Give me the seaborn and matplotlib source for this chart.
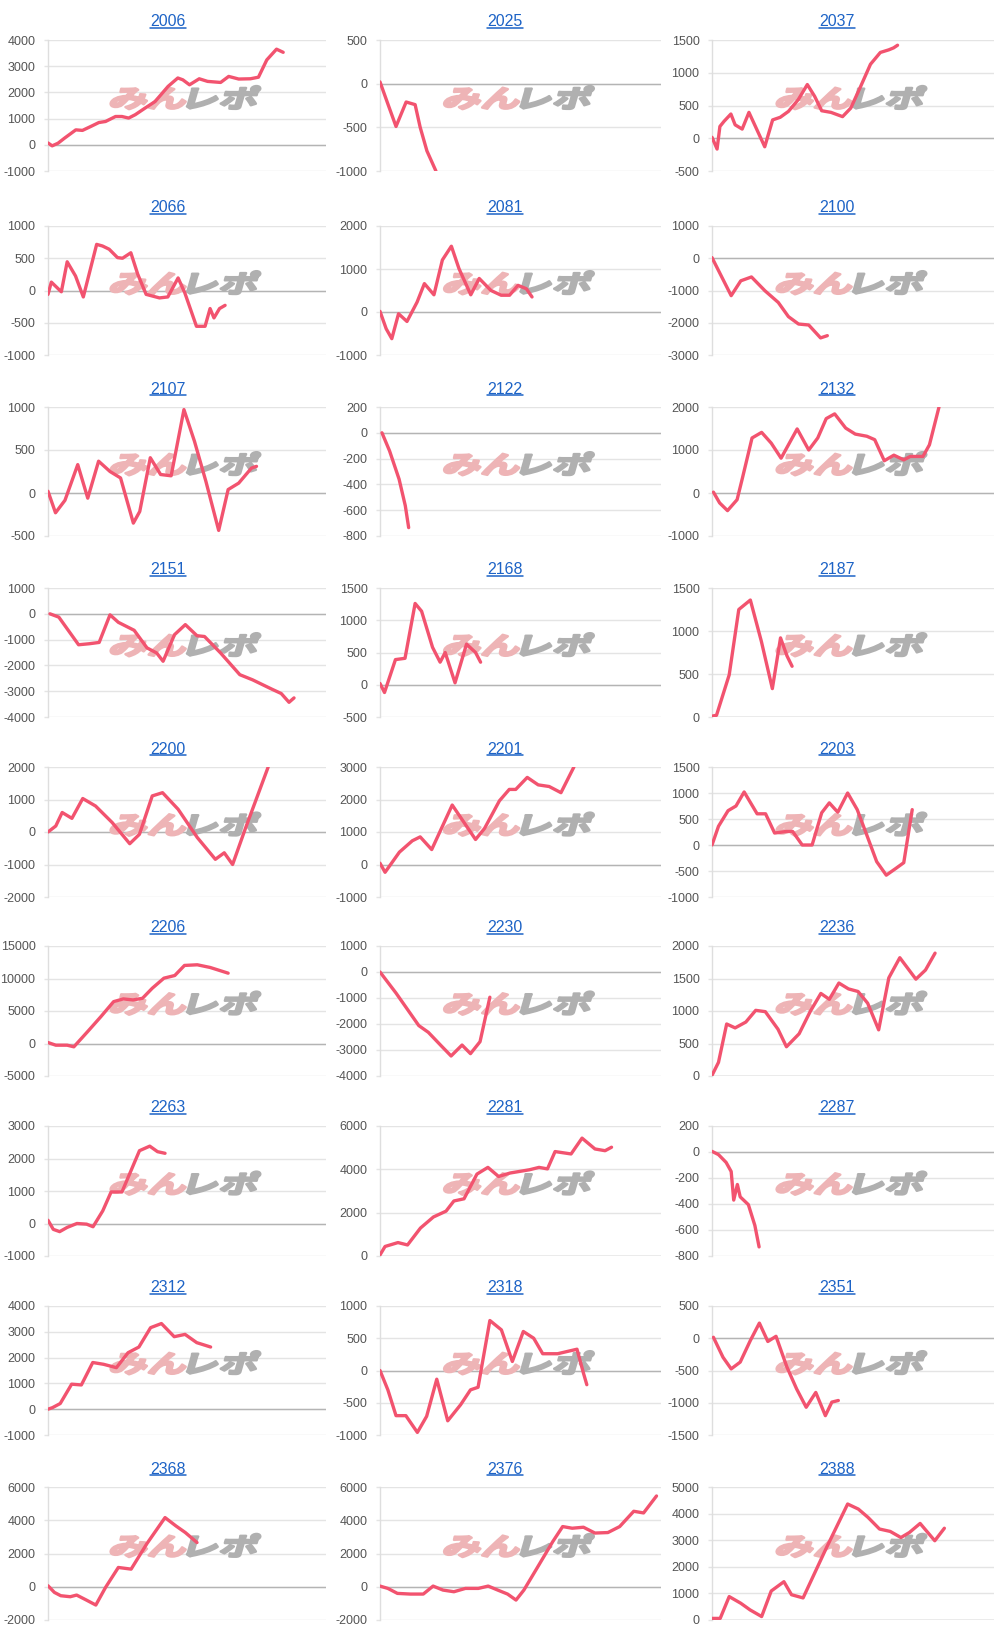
import numpy as np
import pandas as pd
import matplotlib
matplotlib.use("Agg")
import matplotlib.pyplot as plt
import seaborn as sns
from matplotlib.textpath import TextPath
from matplotlib.font_manager import FontProperties
from matplotlib.patches import PathPatch
from matplotlib.transforms import Affine2D, IdentityTransform
from matplotlib.lines import Line2D

# ---------------- data ----------------
titles = ["2006", "2025", "2037", "2066", "2081", "2100", "2107", "2122", "2132",
          "2151", "2168", "2187", "2200", "2201", "2203", "2206", "2230", "2236",
          "2263", "2281", "2287", "2312", "2318", "2351", "2368", "2376", "2388"]
y_min = [-1000, -1000, -500, -1000, -1000, -3000, -500, -800, -1000,
         -4000, -500, 0, -2000, -1000, -1000, -5000, -4000, 0,
         -1000, 0, -800, -1000, -1000, -1500, -2000, -2000, 0]
y_max = [4000, 500, 1500, 1000, 2000, 1000, 1000, 200, 2000,
         1000, 1500, 1500, 2000, 3000, 1500, 15000, 1000, 2000,
         3000, 6000, 200, 4000, 1000, 500, 6000, 6000, 5000]
y_step = [1000, 500, 500, 500, 1000, 1000, 500, 200, 1000,
          1000, 500, 500, 1000, 1000, 500, 5000, 1000, 500,
          1000, 2000, 200, 1000, 500, 500, 2000, 2000, 1000]

x_2006 = [0, 1.5, 3.6, 5.9, 10, 12.4, 15.4, 18.3, 20.7, 24.3, 26.6, 29, 31.4, 34.9, 38.5, 43.2, 46.7, 48.5, 50.9, 54.4, 57.4, 62.1, 65, 68.6, 72.8, 75.7, 78.7, 82.2, 84.6]
y_2006 = [70, -40, 60, 250, 570, 550, 700, 850, 890, 1080, 1080, 1020, 1150, 1400, 1650, 2230, 2550, 2480, 2290, 2520, 2420, 2380, 2610, 2510, 2520, 2580, 3240, 3650, 3530]
x_2025 = [0, 3, 5.7, 9.3, 12.5, 14.3, 16.7, 19.9]
y_2025 = [20, -250, -490, -210, -240, -500, -770, -1000]
x_2037 = [0, 1.8, 2.8, 4.3, 6.7, 8.2, 10.7, 13.1, 15.4, 18.7, 21.5, 24.2, 27.1, 30.6, 33.8, 36.4, 38.9, 42.2, 46.3, 49.2, 52.7, 56.2, 59.7, 62.7, 64.4, 65.8]
y_2037 = [15, -165, 180, 260, 370, 205, 140, 395, 180, -130, 280, 320, 410, 590, 820, 640, 420, 395, 330, 460, 790, 1130, 1310, 1350, 1380, 1420]
x_2066 = [0, 1.2, 4.8, 6.9, 9.9, 12.7, 17.5, 19.6, 22, 25, 26.8, 29.8, 32.3, 35.3, 40.1, 43.1, 46.8, 49.2, 53.4, 56.5, 58.3, 59.7, 61.7, 63.7]
y_2066 = [-60, 130, -20, 445, 225, -100, 715, 690, 640, 510, 500, 585, 250, -60, -115, -100, 195, -35, -555, -555, -280, -425, -280, -230]
x_2081 = [0, 2.2, 4.2, 6.6, 9.6, 13.2, 15.8, 19.2, 22.2, 25.4, 28.1, 32.3, 35.3, 39.5, 43.1, 46.1, 49.1, 52.1, 54.1]
y_2081 = [15, -390, -620, -40, -220, 230, 660, 400, 1210, 1530, 1010, 400, 780, 500, 390, 390, 620, 540, 350]
x_2100 = [0, 6.8, 10.2, 14, 18.8, 23.5, 27.1, 30.7, 34.3, 38.5, 40.9]
y_2100 = [20, -1160, -700, -580, -1010, -1370, -1810, -2040, -2070, -2470, -2400]
x_2107 = [0, 2.7, 6.1, 10.7, 14.3, 18.2, 22.3, 26.1, 30.7, 33, 36.8, 40.5, 44.3, 48.9, 52.7, 56.8, 61.4, 64.8, 68.6, 73.2, 75]
y_2107 = [20, -230, -85, 330, -60, 370, 250, 175, -350, -215, 410, 215, 200, 970, 600, 135, -435, 40, 115, 290, 310]
x_2122 = [0.7, 3.4, 6.8, 9, 10.2]
y_2122 = [0, -140, -360, -565, -735]
x_2132 = [0.5, 2.7, 5.5, 8.9, 10.8, 14.2, 17.6, 21, 24.5, 30.2, 34.3, 37.5, 40.5, 43.5, 47.4, 50.8, 54.9, 57.7, 61.1, 64.5, 68, 70.3, 74.8, 77.1, 80.5]
y_2132 = [20, -230, -410, -155, 350, 1280, 1410, 1160, 810, 1490, 1000, 1280, 1730, 1840, 1510, 1370, 1320, 1240, 750, 880, 770, 850, 850, 1120, 2000]
x_2151 = [0.7, 3.9, 11, 14.9, 18.4, 22.3, 25.3, 31, 35.6, 39.1, 41.4, 45.5, 49.4, 53.6, 56.3, 62.1, 69, 73.6, 80.5, 83.9, 86.7, 88.5]
y_2151 = [0, -130, -1200, -1160, -1110, -40, -330, -640, -1320, -1520, -1840, -810, -420, -850, -880, -1520, -2360, -2560, -2920, -3090, -3430, -3260]
x_2168 = [0, 1.6, 5.5, 8.9, 12.5, 14.8, 18.7, 21.4, 23.2, 26.7, 30.8, 34, 35.8]
y_2168 = [20, -120, 390, 410, 1260, 1140, 580, 350, 500, 30, 630, 500, 350]
x_2187 = [0, 1.6, 6.1, 9.5, 13.6, 17.5, 21.4, 24.3, 26.6, 28.4]
y_2187 = [10, 20, 490, 1250, 1360, 880, 330, 920, 710, 590]
x_2200 = [0, 2.8, 5.1, 8.6, 12.5, 17.1, 23.1, 29.4, 32.9, 37.5, 41.2, 46.8, 53.7, 60.2, 63.4, 66.4, 71.1, 79.2]
y_2200 = [0, 185, 600, 420, 1030, 800, 290, -360, -70, 1110, 1210, 700, -170, -840, -640, -1000, 130, 2000]
x_2201 = [0, 1.8, 6.9, 11.5, 14.3, 18.4, 25.7, 34, 37.2, 42.5, 46, 48.3, 52.4, 56.3, 60.2, 64.4, 69]
y_2201 = [40, -240, 380, 730, 850, 460, 1830, 770, 1110, 1960, 2310, 2310, 2680, 2450, 2400, 2210, 3000]
x_2203 = [0, 2.3, 5.7, 8.5, 11.4, 16, 19, 22.2, 26.3, 28.6, 32, 35.5, 38.9, 41.6, 44.6, 48.1, 51.5, 54.9, 58.4, 61.8, 65.2, 68, 71]
y_2203 = [0, 360, 660, 750, 1020, 600, 600, 230, 260, 260, 0, 0, 620, 810, 630, 1000, 680, 190, -320, -580, -450, -340, 680]
x_2206 = [0, 2.8, 6.9, 9.3, 14.4, 19, 23.6, 27.1, 30.6, 34, 37.5, 41.7, 45.6, 49.1, 53.7, 58.3, 64.8]
y_2206 = [150, -260, -260, -510, 1900, 4120, 6440, 6860, 6700, 6960, 8500, 10050, 10460, 12010, 12110, 11700, 10820]
x_2230 = [0, 5.7, 13.8, 17.2, 21.8, 25.3, 29.2, 32.2, 35.6, 39.1]
y_2230 = [0, -810, -2060, -2320, -2840, -3230, -2810, -3140, -2680, -970]
x_2236 = [0, 2.3, 5.2, 8.2, 12, 15.5, 18.9, 23.4, 26.4, 30.9, 34.8, 38.6, 41.6, 45, 48.4, 51.8, 55.2, 59.1, 62.7, 66.6, 72.3, 75.7, 79.1]
y_2236 = [10, 210, 800, 740, 830, 1010, 990, 720, 450, 650, 990, 1270, 1180, 1430, 1340, 1300, 1120, 710, 1510, 1820, 1490, 1630, 1890]
x_2263 = [0, 1.9, 4.2, 6.9, 10.4, 13.9, 16.2, 19.7, 22.7, 26.6, 32.9, 36.6, 39.4, 42.1]
y_2263 = [100, -180, -250, -120, 0, -20, -100, 390, 970, 970, 2240, 2380, 2210, 2160]
x_2281 = [0, 1.8, 6.4, 9.8, 14.4, 19, 23.5, 26.3, 29.9, 34.5, 38.4, 42.2, 46.3, 53.2, 56.6, 59.6, 62.3, 68, 71.9, 76.5, 80.1, 82.4]
y_2281 = [50, 440, 620, 510, 1290, 1800, 2070, 2540, 2640, 3780, 4090, 3670, 3830, 3980, 4090, 4020, 4820, 4710, 5440, 4940, 4860, 5020]
x_2287 = [0, 2.3, 5, 6.8, 7.7, 9, 10, 12.9, 15.2, 16.7]
y_2287 = [5, -20, -80, -150, -370, -250, -345, -405, -565, -730]
x_2312 = [0, 1.6, 4.4, 8.5, 12, 16.1, 20, 24.6, 28.8, 32.7, 36.9, 40.8, 45.4, 49.3, 53.5, 58.5]
y_2312 = [0, 60, 220, 970, 940, 1810, 1740, 1610, 2190, 2410, 3160, 3320, 2810, 2900, 2580, 2410]
x_2318 = [0, 2.8, 5.7, 9.2, 13.3, 16.6, 20.2, 24.1, 28.7, 32.2, 34.9, 39.1, 43.2, 47.1, 51, 54.7, 57.9, 63.2, 70.1, 72.4, 73.6]
y_2318 = [0, -300, -700, -700, -960, -710, -135, -780, -530, -300, -260, 775, 630, 140, 605, 500, 260, 260, 330, -40, -220]
x_2351 = [0.5, 3.9, 6.8, 10, 13.6, 16.8, 19.8, 22.7, 26.6, 30, 33.4, 36.8, 40.2, 42.5, 44.8]
y_2351 = [15, -295, -475, -370, -35, 235, -50, 30, -450, -785, -1070, -840, -1200, -990, -965]
x_2368 = [0, 2.3, 4.6, 8, 10.3, 13.8, 17.2, 20.7, 25.3, 29.9, 35.6, 42.1, 46, 49.4, 53.6]
y_2368 = [60, -340, -540, -600, -500, -800, -1100, -40, 1160, 1060, 2600, 4160, 3660, 3260, 2660]
x_2376 = [0, 2.8, 6.2, 10.8, 15.4, 18.9, 22.4, 26.3, 30.4, 35, 38.5, 41.9, 45.4, 48.4, 51.2, 55.8, 61.5, 65, 68.4, 72.4, 76.5, 81.1, 85.3, 90.3, 93.8, 98.4]
y_2376 = [40, -100, -400, -440, -440, 40, -200, -300, -100, -100, 40, -200, -440, -800, -200, 1100, 2720, 3620, 3520, 3580, 3230, 3260, 3620, 4540, 4440, 5460]
x_2388 = [0, 2.9, 6.1, 10.2, 13.5, 17.6, 21, 25.5, 28.2, 32.3, 40.6, 48.1, 51.9, 55.3, 59.4, 63.2, 67, 70, 73.8, 79, 82.4]
y_2388 = [60, 60, 880, 630, 380, 130, 1090, 1440, 950, 830, 2720, 4360, 4170, 3860, 3420, 3330, 3100, 3290, 3630, 2980, 3450]

series_x = [x_2006, x_2025, x_2037, x_2066, x_2081, x_2100, x_2107, x_2122, x_2132,
            x_2151, x_2168, x_2187, x_2200, x_2201, x_2203, x_2206, x_2230, x_2236,
            x_2263, x_2281, x_2287, x_2312, x_2318, x_2351, x_2368, x_2376, x_2388]
series_y = [y_2006, y_2025, y_2037, y_2066, y_2081, y_2100, y_2107, y_2122, y_2132,
            y_2151, y_2168, y_2187, y_2200, y_2201, y_2203, y_2206, y_2230, y_2236,
            y_2263, y_2281, y_2287, y_2312, y_2318, y_2351, y_2368, y_2376, y_2388]

# ---------------- style / layout ----------------
sns.set_theme(style="white")
plt.rcParams["font.family"] = ["Liberation Sans", "DejaVu Sans"]
plt.rcParams["axes.unicode_minus"] = False

FIG_W, FIG_H = 1000, 1637
LINE_COLOR = "#f2536f"
TITLE_COLOR = "#1d63c6"
GRID_COLOR = "#e4e4e4"
ZERO_COLOR = "#b4b4b4"
TICK_COLOR = "#555555"
WM_PINK = "#eeb4b6"
WM_GRAY = "#b0b0b0"

col_left = [48, 380, 712]
col_right = [326, 661, 994]
col_title_x = [168, 505, 837]
row_top = [40, 226, 407, 588, 767, 946, 1126, 1306, 1487]
row_h = [131, 129, 129, 129, 130, 130, 130, 129, 133]

fig = plt.figure(figsize=(FIG_W / 100, FIG_H / 100), dpi=100)
fig.patch.set_facecolor("white")

wm_fp = FontProperties(family="Noto Sans CJK JP", weight="bold")


def add_watermark(ax):
    bb = ax.get_position()
    cx = (bb.x0 + bb.x1) / 2 * FIG_W - 2
    cy = (bb.y0 + 0.56 * bb.height) * FIG_H
    size = 30
    pa = TextPath((0, 0), "みん", size=size, prop=wm_fp)
    pb = TextPath((0, 0), "レポ", size=size, prop=wm_fp)
    ea, eb = pa.get_extents(), pb.get_extents()
    shift_b = ea.x1 + 2 - eb.x0
    x0, x1 = ea.x0, shift_b + eb.x1
    y0, y1 = min(ea.y0, eb.y0), max(ea.y1, eb.y1)
    base = (Affine2D().translate(-(x0 + x1) / 2, -(y0 + y1) / 2)
            .scale(1.3, 0.82).skew_deg(16, 0).translate(cx, cy))
    pa_t = base.transform_path(pa)
    pb_t = (Affine2D().translate(shift_b, 0) + base).transform_path(pb)
    for p, col in ((pa_t, WM_PINK), (pb_t, WM_GRAY)):
        patch = PathPatch(p, facecolor=col, edgecolor=col, lw=1.8,
                          joinstyle="round",
                          transform=IdentityTransform(), zorder=1.5)
        ax.add_patch(patch)


title_texts = []
for i, name in enumerate(titles):
    r, c = divmod(i, 3)
    left = col_left[c] / FIG_W
    width = (col_right[c] - col_left[c]) / FIG_W
    bottom = 1 - (row_top[r] + row_h[r]) / FIG_H
    height = row_h[r] / FIG_H
    ax = fig.add_axes([left, bottom, width, height])

    df = pd.DataFrame({"x": series_x[i], "y": series_y[i]})
    ymin, ymax, step = y_min[i], y_max[i], y_step[i]

    ax.yaxis.grid(True, color=GRID_COLOR, lw=1.0, zorder=0)
    ax.xaxis.grid(False)
    ax.set_axisbelow(True)
    if ymin <= 0 <= ymax:
        ax.axhline(0, color=ZERO_COLOR, lw=1.0, zorder=1)

    add_watermark(ax)

    sns.lineplot(data=df, x="x", y="y", ax=ax, color=LINE_COLOR, linewidth=2.4,
                 sort=False, estimator=None, zorder=3)
    for ln in ax.lines:
        ln.set_solid_joinstyle("round")
        ln.set_solid_capstyle("round")

    ticks = np.arange(ymin, ymax + step / 2, step)
    ax.set_xlim(0, 100)
    ax.set_ylim(ymin, ymax)
    ax.set_yticks(ticks)
    ax.set_yticklabels([str(int(v)) for v in ticks])
    ax.set_xticks([])
    ax.set_xlabel("")
    ax.set_ylabel("")
    ax.tick_params(axis="y", length=3, width=1, color=GRID_COLOR, pad=6,
                   labelsize=9, labelcolor=TICK_COLOR, left=True)
    for s in ("top", "right", "bottom"):
        ax.spines[s].set_visible(False)
    ax.spines["left"].set_color("#dedede")
    ax.spines["left"].set_linewidth(1.0)
    ax.set_facecolor("none")

    t = fig.text(col_title_x[c] / FIG_W, 1 - (row_top[r] - 18) / FIG_H, name,
                 ha="center", va="center", fontsize=11.5, color=TITLE_COLOR)
    title_texts.append(t)

# underline the titles (they are links in the original)
fig.canvas.draw()
renderer = fig.canvas.get_renderer()
for t in title_texts:
    bb = t.get_window_extent(renderer)
    yline = (bb.y0 + 1.5) / FIG_H
    fig.add_artist(Line2D([bb.x0 / FIG_W, bb.x1 / FIG_W], [yline, yline],
                          transform=fig.transFigure, color=TITLE_COLOR, lw=1.1))

fig.savefig("out.png", dpi=100, facecolor="white")
